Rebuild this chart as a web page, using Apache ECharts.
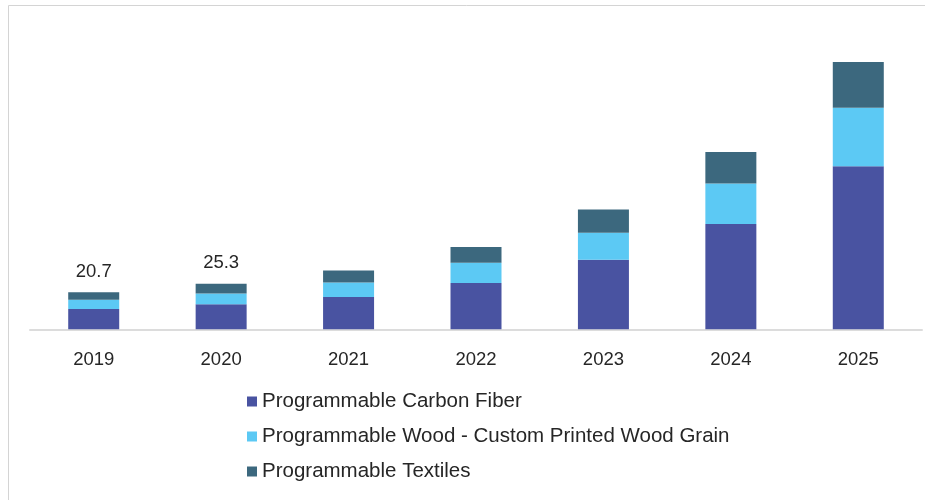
<!DOCTYPE html>
<html>
<head>
<meta charset="utf-8">
<script src="https://cdn.jsdelivr.net/npm/echarts@6/dist/echarts.min.js"></script>
<style>
  html, body { margin: 0; padding: 0; background: #ffffff; }
  #chart { width: 925px; height: 500px; }
</style>
</head>
<body>
<div id="chart"></div>
<script>
// Market size by product type, stacked per year
const years = ['2019', '2020', '2021', '2022', '2023', '2024', '2025'];
const carbonFiber = [11.3, 13.9, 18.0, 25.8, 38.8, 58.7, 90.8];
const printedWood = [5.2, 6.0, 8.0, 11.3, 14.9, 22.5, 32.6];
const textiles    = [4.2, 5.4, 6.7, 8.7, 13.0, 17.5, 25.5];
// Years whose stacked total is written above the bar
const labelledYears = ['2019', '2020'];

const seriesNames = [
  'Programmable Carbon Fiber',
  'Programmable Wood - Custom Printed Wood Grain',
  'Programmable Textiles'
];
const colors = ['#4953a1', '#5cc9f4', '#3c687e'];

const totals = years.map((_, i) => carbonFiber[i] + printedWood[i] + textiles[i]);

const chart = echarts.init(document.getElementById('chart'), null, { renderer: 'canvas' });

const fontFamily = '"Liberation Sans", Arial, sans-serif';

function barSeries(name, data, color, withLabel) {
  const s = {
    name: name,
    type: 'bar',
    stack: 'total',
    barWidth: 51,
    data: data,
    itemStyle: { color: color },
    emphasis: { disabled: true }
  };
  if (withLabel) {
    s.label = {
      show: true,
      position: 'top',
      distance: 11,
      fontFamily: fontFamily,
      fontSize: 18.5,
      color: '#262626',
      formatter: function (p) {
        return labelledYears.indexOf(p.name) >= 0 ? totals[p.dataIndex].toFixed(1) : '';
      }
    };
  }
  return s;
}

chart.setOption({
  animation: false,
  backgroundColor: '#ffffff',
  color: colors,
  grid: { left: 30, right: 3, top: 42, bottom: 170.7, containLabel: false },
  xAxis: {
    type: 'category',
    data: years,
    boundaryGap: true,
    axisLine: { show: true, lineStyle: { color: '#dcdcdc', width: 2 } },
    axisTick: { show: false },
    axisLabel: {
      margin: 21,
      fontFamily: fontFamily,
      fontSize: 18.5,
      color: '#262626'
    }
  },
  yAxis: {
    type: 'value',
    min: 0,
    max: 160,
    show: false,
    splitLine: { show: false }
  },
  legend: {
    orient: 'vertical',
    left: 242,
    top: 386,
    itemWidth: 10,
    itemHeight: 10,
    itemGap: 14,
    icon: 'rect',
    selectedMode: false,
    textStyle: {
      fontFamily: fontFamily,
      fontSize: 20.5,
      lineHeight: 20,
      color: '#262626'
    },
    data: seriesNames
  },
  graphic: [
    {
      type: 'polyline',
      silent: true,
      shape: { points: [[8.5, 500], [8.5, 5.5], [925, 5.5]] },
      style: { stroke: '#d4d4d4', lineWidth: 1, fill: null }
    }
  ],
  series: [
    barSeries(seriesNames[0], carbonFiber, colors[0], false),
    barSeries(seriesNames[1], printedWood, colors[1], false),
    barSeries(seriesNames[2], textiles, colors[2], true)
  ]
});
</script>
</body>
</html>
